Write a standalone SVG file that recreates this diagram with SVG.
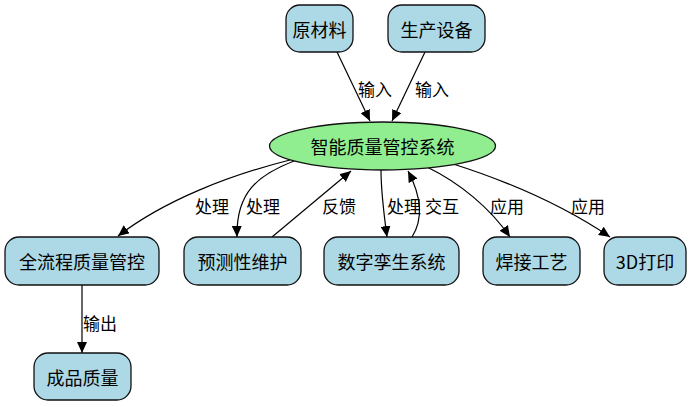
<svg xmlns="http://www.w3.org/2000/svg" width="692" height="407" viewBox="0 0 692 407">
<style>
.n{fill:#add8e6;stroke:#111;stroke-width:1.3}
.e{fill:#90ee90;stroke:#111;stroke-width:1.3}
.t{font-family:"Noto Sans CJK SC","Liberation Sans",sans-serif;font-size:18px;fill:#000;text-anchor:middle;dominant-baseline:central}
.l{font-family:"Noto Sans CJK SC","Liberation Sans",sans-serif;font-size:17px;fill:#000;text-anchor:middle;dominant-baseline:central}
.c{fill:none;stroke:#000;stroke-width:1.2}
</style>
<defs>
<marker id="a" markerWidth="12" markerHeight="10" refX="11" refY="5" orient="auto" markerUnits="userSpaceOnUse">
<path d="M0,0 L11,5 L0,10 Z" fill="#000"/>
</marker>
</defs>
<g id="connectors">
<path class="c" marker-end="url(#a)" d="M337,52 L370,121"/>
<path class="c" marker-end="url(#a)" d="M425,52 L392,121"/>
<path class="c" marker-end="url(#a)" d="M290,160 C230,175 165,200 118,236"/>
<path class="c" marker-end="url(#a)" d="M294,161 C258,175 236,192 237,237"/>
<path class="c" marker-end="url(#a)" d="M272,237 L351,171"/>
<path class="c" marker-end="url(#a)" d="M381,170 C381,190 384,215 387,237"/>
<path class="c" marker-end="url(#a)" d="M412,237 C426,215 418,190 408,171"/>
<path class="c" marker-end="url(#a)" d="M427,167 C460,183 490,208 510,237"/>
<path class="c" marker-end="url(#a)" d="M450,163 C520,185 570,210 610,237"/>
<path class="c" marker-end="url(#a)" d="M82,285 L82,353"/>
<text class="l" x="375" y="88">输入</text>
<text class="l" x="432" y="88">输入</text>
<text class="l" x="212" y="205">处理</text>
<text class="l" x="263" y="205">处理</text>
<text class="l" x="339" y="205">反馈</text>
<text class="l" x="404" y="205">处理</text>
<text class="l" x="442" y="205">交互</text>
<text class="l" x="507" y="205">应用</text>
<text class="l" x="588" y="205">应用</text>
<text class="l" x="100" y="322">输出</text>
</g>
<g id="yuancailiao"><rect class="n" x="286" y="5" width="67" height="47" rx="14"/><text class="t" x="319.5" y="29">原材料</text></g>
<g id="shengchanshebei"><rect class="n" x="388" y="5" width="97" height="47" rx="14"/><text class="t" x="436.5" y="29">生产设备</text></g>
<g id="zhineng"><ellipse class="e" cx="382.5" cy="146" rx="113" ry="24"/><text class="t" x="382.5" y="146">智能质量管控系统</text></g>
<g id="quanliucheng"><rect class="n" x="5" y="237" width="154" height="48" rx="14"/><text class="t" x="82" y="261">全流程质量管控</text></g>
<g id="yuce"><rect class="n" x="184" y="237" width="117" height="48" rx="14"/><text class="t" x="242.5" y="261">预测性维护</text></g>
<g id="shuzi"><rect class="n" x="324" y="237" width="135" height="48" rx="14"/><text class="t" x="391.5" y="261">数字孪生系统</text></g>
<g id="hanjie"><rect class="n" x="483" y="237" width="97" height="48" rx="14"/><text class="t" x="531.5" y="261">焊接工艺</text></g>
<g id="dayin"><rect class="n" x="604" y="237" width="82" height="48" rx="14"/><text class="t" x="645" y="261">3D打印</text></g>
<g id="chengpin"><rect class="n" x="34" y="353" width="97" height="47" rx="14"/><text class="t" x="82.5" y="377">成品质量</text></g>
</svg>
